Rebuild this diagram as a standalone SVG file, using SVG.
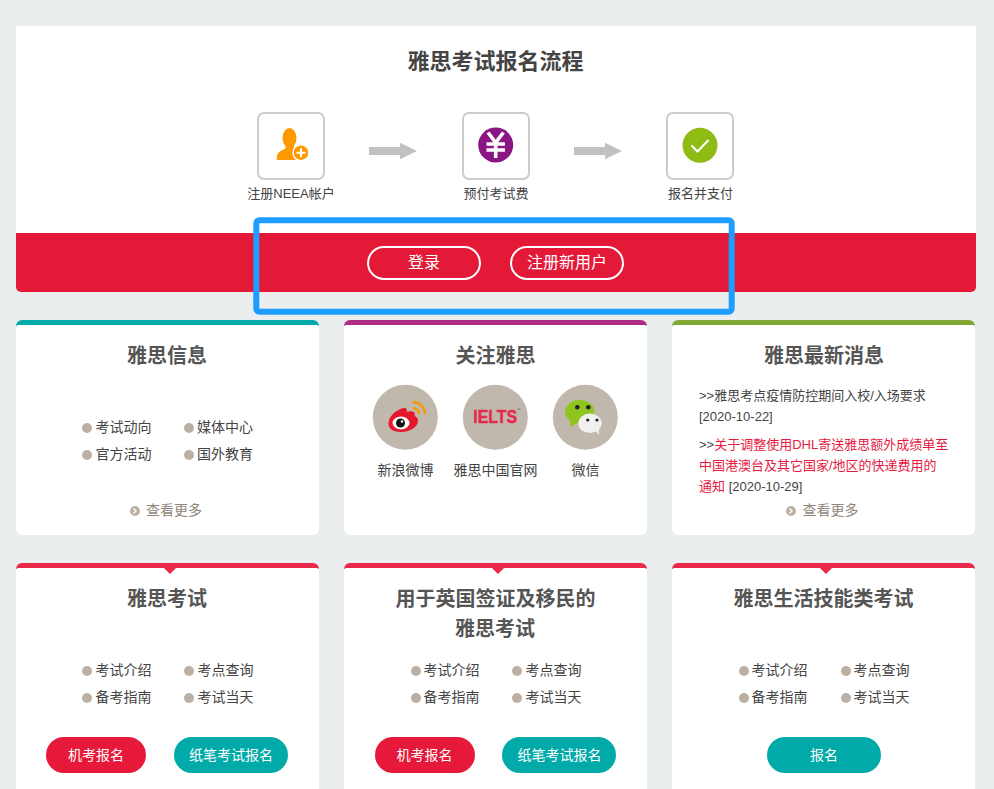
<svg xmlns="http://www.w3.org/2000/svg" width="994" height="789" viewBox="0 0 994 789">
<style>
text{font-family:"Liberation Sans","Noto Sans CJK SC",sans-serif;font-size:14px;fill:#444}
.mid{text-anchor:middle}
.title{font-size:20px;font-weight:700;fill:#555;text-anchor:middle}
.step{font-size:13px;text-anchor:middle}
.box{fill:#fff;stroke:#ccc;stroke-width:2}
.card{fill:#fff}
.dot{fill:#bcb0a5}
.soc{fill:#c0b8ac}
.more{fill:#8f8579}
.news{font-size:13px}
.red{fill:#e6193f}
.pill{stroke:#fff;stroke-width:2;fill:none}
.wt{fill:#fff;text-anchor:middle}
.arrow{fill:#c1c1c1}
.cap{fill:#e8294a}
.chev{fill:none;stroke:#fff;stroke-width:1.3}
</style>
<rect width="994" height="789" fill="#eaeeef"/>

<g id="panel">
<path d="M16 26H976V287a5 5 0 0 1-5 5H21a5 5 0 0 1-5-5z" fill="#fff"/>
<path d="M16 233H976V287a5 5 0 0 1-5 5H21a5 5 0 0 1-5-5z" fill="#e31937"/>
<text x="495.500" y="69" class="title" style="font-size:22px;fill:#444">雅思考试报名流程</text>
</g>

<g id="step-register">
<rect class="box" x="258" y="113" width="66" height="66" rx="6"/>
<ellipse cx="289.500" cy="138" rx="7" ry="10" fill="#f90"/>
<path d="M277 160c-1-6 2-9 8-11l1-4h7l2 4c4 1 7 3 8 5l-4 6z" fill="#f90"/>
<circle cx="301" cy="152.700" r="8" fill="#f90" stroke="#fff" stroke-width="1.500"/>
<path d="M301 148.200v9M296.500 152.700h9" stroke="#fff" stroke-width="2"/>
<text x="291" y="198" class="step">注册NEEA帐户</text>
</g>

<g id="step-pay">
<rect class="box" x="463" y="113" width="66" height="66" rx="6"/>
<circle cx="495.700" cy="145" r="17.500" fill="#8a1583"/>
<path d="M488 132.500l7.700 10 7.700-10M486.500 144h18.400M486.500 150h18.400M495.700 143v15" fill="none" stroke="#fff" stroke-width="3.600"/>
<text x="496" y="198" class="step">预付考试费</text>
</g>

<g id="step-confirm">
<rect class="box" x="667" y="113" width="66" height="66" rx="6"/>
<circle cx="700" cy="145.300" r="17.500" fill="#8fbc14"/>
<path d="M691.500 145.500l6 6 11-11.500" fill="none" stroke="#fff" stroke-width="2.200"/>
<text x="700.500" y="198" class="step">报名并支付</text>
</g>

<g id="connectors">
<path class="arrow" d="M369 147H400V142.700L417 151 400 159.300V155H369z"/>
<path class="arrow" d="M574 147H605V142.700L622 151 605 159.300V155H574z"/>
</g>

<g id="btn-login">
<rect class="pill" x="368" y="247" width="112" height="32" rx="16"/>
<text x="424" y="268" class="wt" style="font-size:16px">登录</text>
</g>
<g id="btn-signup">
<rect class="pill" x="511" y="247" width="112" height="32" rx="16"/>
<text x="567" y="268" class="wt" style="font-size:16px">注册新用户</text>
</g>

<g id="card-info">
<rect class="card" x="16" y="320" width="303" height="215" rx="6"/>
<path d="M16 326a6 6 0 0 1 6-6H313a6 6 0 0 1 6 6l-2-1H18z" fill="#00aaa9"/>
<text x="167" y="363" class="title">雅思信息</text>
<circle class="dot" cx="87" cy="428" r="5"/><text x="95.500" y="432">考试动向</text>
<circle class="dot" cx="189" cy="428" r="5"/><text x="197" y="432">媒体中心</text>
<circle class="dot" cx="87" cy="455" r="5"/><text x="95.500" y="459">官方活动</text>
<circle class="dot" cx="189" cy="455" r="5"/><text x="197" y="459">国外教育</text>
<circle class="dot" cx="135" cy="511" r="5"/><path class="chev" d="M133.500 508.500l2.500 2.500-2.500 2.500"/>
<text x="146" y="515" class="more">查看更多</text>
</g>

<g id="card-follow">
<rect class="card" x="344" y="320" width="303" height="215" rx="6"/>
<path d="M344 326a6 6 0 0 1 6-6H641a6 6 0 0 1 6 6l-2-1H346z" fill="#ae2c84"/>
<text x="495.500" y="363" class="title">关注雅思</text>
<circle class="soc" cx="405.300" cy="417.300" r="32.500"/>
<path d="M388.500 424c0-6 4-11 10-14 3-2 7-3 8-1 1 1 0 3 0 3 3-1 7-1 8 1 1 1 0 3 0 3 2 1 3.500 2 3.500 5 0 5-7 11-17 11-7 0-12.500-3-12.500-8z" fill="#e6162d"/>
<ellipse cx="401" cy="423" rx="8.500" ry="6.500" fill="#fff"/>
<circle cx="400.500" cy="423" r="4.500" fill="#111"/>
<circle cx="402" cy="421.500" r="1.200" fill="#fff"/>
<path d="M412.700 402a12.300 12.300 0 0 1 12.300 12.300M412.700 408a6.500 6.500 0 0 1 6.500 6.500" fill="none" stroke="#f59a00" stroke-width="2.300"/>
<circle class="soc" cx="495.300" cy="417.300" r="32.500"/>
<text transform="translate(473.300 423.300) scale(.86 1)" style="font-size:18.500px;font-weight:700;fill:#e6294f;stroke:#e6294f;stroke-width:.5">IELTS<tspan dy="-12" style="font-size:4px;font-weight:400;fill:#444;stroke:none">™</tspan></text>
<circle class="soc" cx="585.300" cy="417.300" r="32.500"/>
<ellipse cx="579.700" cy="411.700" rx="14.700" ry="11.700" fill="#90c41f"/>
<path d="M570 420l0 7 7-4z" fill="#90c41f"/>
<circle cx="577.300" cy="407.300" r="2.300" fill="#222"/><circle cx="588.300" cy="407.300" r="2.300" fill="#222"/>
<ellipse cx="590" cy="423.300" rx="11.700" ry="9.700" fill="#f0f0f0"/>
<path d="M595 430l4 5 0-6z" fill="#f0f0f0"/>
<circle cx="587.700" cy="420" r="1.600" fill="#222"/><circle cx="597" cy="420" r="1.600" fill="#222"/>
<text x="405.500" y="475" class="mid">新浪微博</text>
<text x="495.500" y="475" class="mid">雅思中国官网</text>
<text x="585.500" y="475" class="mid">微信</text>
</g>

<g id="card-news">
<rect class="card" x="672" y="320" width="303" height="215" rx="6"/>
<path d="M672 326a6 6 0 0 1 6-6H969a6 6 0 0 1 6 6l-2-1H674z" fill="#82a935"/>
<text x="824" y="363" class="title">雅思最新消息</text>
<text x="699" y="400" class="news">&gt;&gt;雅思考点疫情防控期间入校/入场要求</text>
<text x="699" y="421" class="news">[2020-10-22]</text>
<text x="699" y="449" class="news">&gt;&gt;<tspan class="red">关于调整使用DHL寄送雅思额外成绩单至</tspan></text>
<text x="699" y="470" class="news red">中国港澳台及其它国家/地区的快递费用的</text>
<text x="699" y="491" class="news"><tspan class="red">通知</tspan> [2020-10-29]</text>
<circle class="dot" cx="791" cy="511" r="5"/><path class="chev" d="M789.500 508.500l2.500 2.500-2.500 2.500"/>
<text x="802.500" y="515" class="more">查看更多</text>
</g>

<g id="card-ielts">
<rect class="card" x="16" y="563" width="303" height="240" rx="6"/>
<path d="M16 569a6 6 0 0 1 6-6H313a6 6 0 0 1 6 6l-2-1H176l-6 6-6-6H18z" class="cap"/>
<text x="167" y="606" class="title">雅思考试</text>
<circle class="dot" cx="87" cy="671" r="5"/><text x="95.500" y="675">考试介绍</text>
<circle class="dot" cx="189" cy="671" r="5"/><text x="197.500" y="675">考点查询</text>
<circle class="dot" cx="87" cy="698" r="5"/><text x="95.500" y="702">备考指南</text>
<circle class="dot" cx="189" cy="698" r="5"/><text x="197.500" y="702">考试当天</text>
<rect x="46" y="737" width="100" height="36" rx="18" fill="#e6193a"/><text x="96" y="760" class="wt">机考报名</text>
<rect x="174" y="737" width="114" height="36" rx="18" fill="#00aaa9"/><text x="231" y="760" class="wt">纸笔考试报名</text>
</g>

<g id="card-visa">
<rect class="card" x="344" y="563" width="303" height="240" rx="6"/>
<path d="M344 569a6 6 0 0 1 6-6H641a6 6 0 0 1 6 6l-2-1H504l-6 6-6-6H346z" class="cap"/>
<text x="495.500" y="606" class="title">用于英国签证及移民的</text>
<text x="495" y="636" class="title">雅思考试</text>
<circle class="dot" cx="416" cy="671" r="5"/><text x="423.500" y="675">考试介绍</text>
<circle class="dot" cx="517" cy="671" r="5"/><text x="525.500" y="675">考点查询</text>
<circle class="dot" cx="416" cy="698" r="5"/><text x="423.500" y="702">备考指南</text>
<circle class="dot" cx="517" cy="698" r="5"/><text x="525.500" y="702">考试当天</text>
<rect x="375" y="737" width="100" height="36" rx="18" fill="#e6193a"/><text x="424.500" y="760" class="wt">机考报名</text>
<rect x="502" y="737" width="114" height="36" rx="18" fill="#00aaa9"/><text x="559.500" y="760" class="wt">纸笔考试报名</text>
</g>

<g id="card-life">
<rect class="card" x="672" y="563" width="303" height="240" rx="6"/>
<path d="M672 569a6 6 0 0 1 6-6H969a6 6 0 0 1 6 6l-2-1H832l-6 6-6-6H674z" class="cap"/>
<text x="823.500" y="606" class="title">雅思生活技能类考试</text>
<circle class="dot" cx="744" cy="671" r="5"/><text x="751.500" y="675">考试介绍</text>
<circle class="dot" cx="846" cy="671" r="5"/><text x="853.500" y="675">考点查询</text>
<circle class="dot" cx="744" cy="698" r="5"/><text x="751.500" y="702">备考指南</text>
<circle class="dot" cx="846" cy="698" r="5"/><text x="853.500" y="702">考试当天</text>
<rect x="767" y="737" width="114" height="36" rx="18" fill="#00aaa9"/><text x="824" y="760" class="wt">报名</text>
</g>

<rect id="highlight" x="256.300" y="220.300" width="475.400" height="91.400" rx="3" fill="none" stroke="#1c9dff" stroke-width="6"/>
</svg>
